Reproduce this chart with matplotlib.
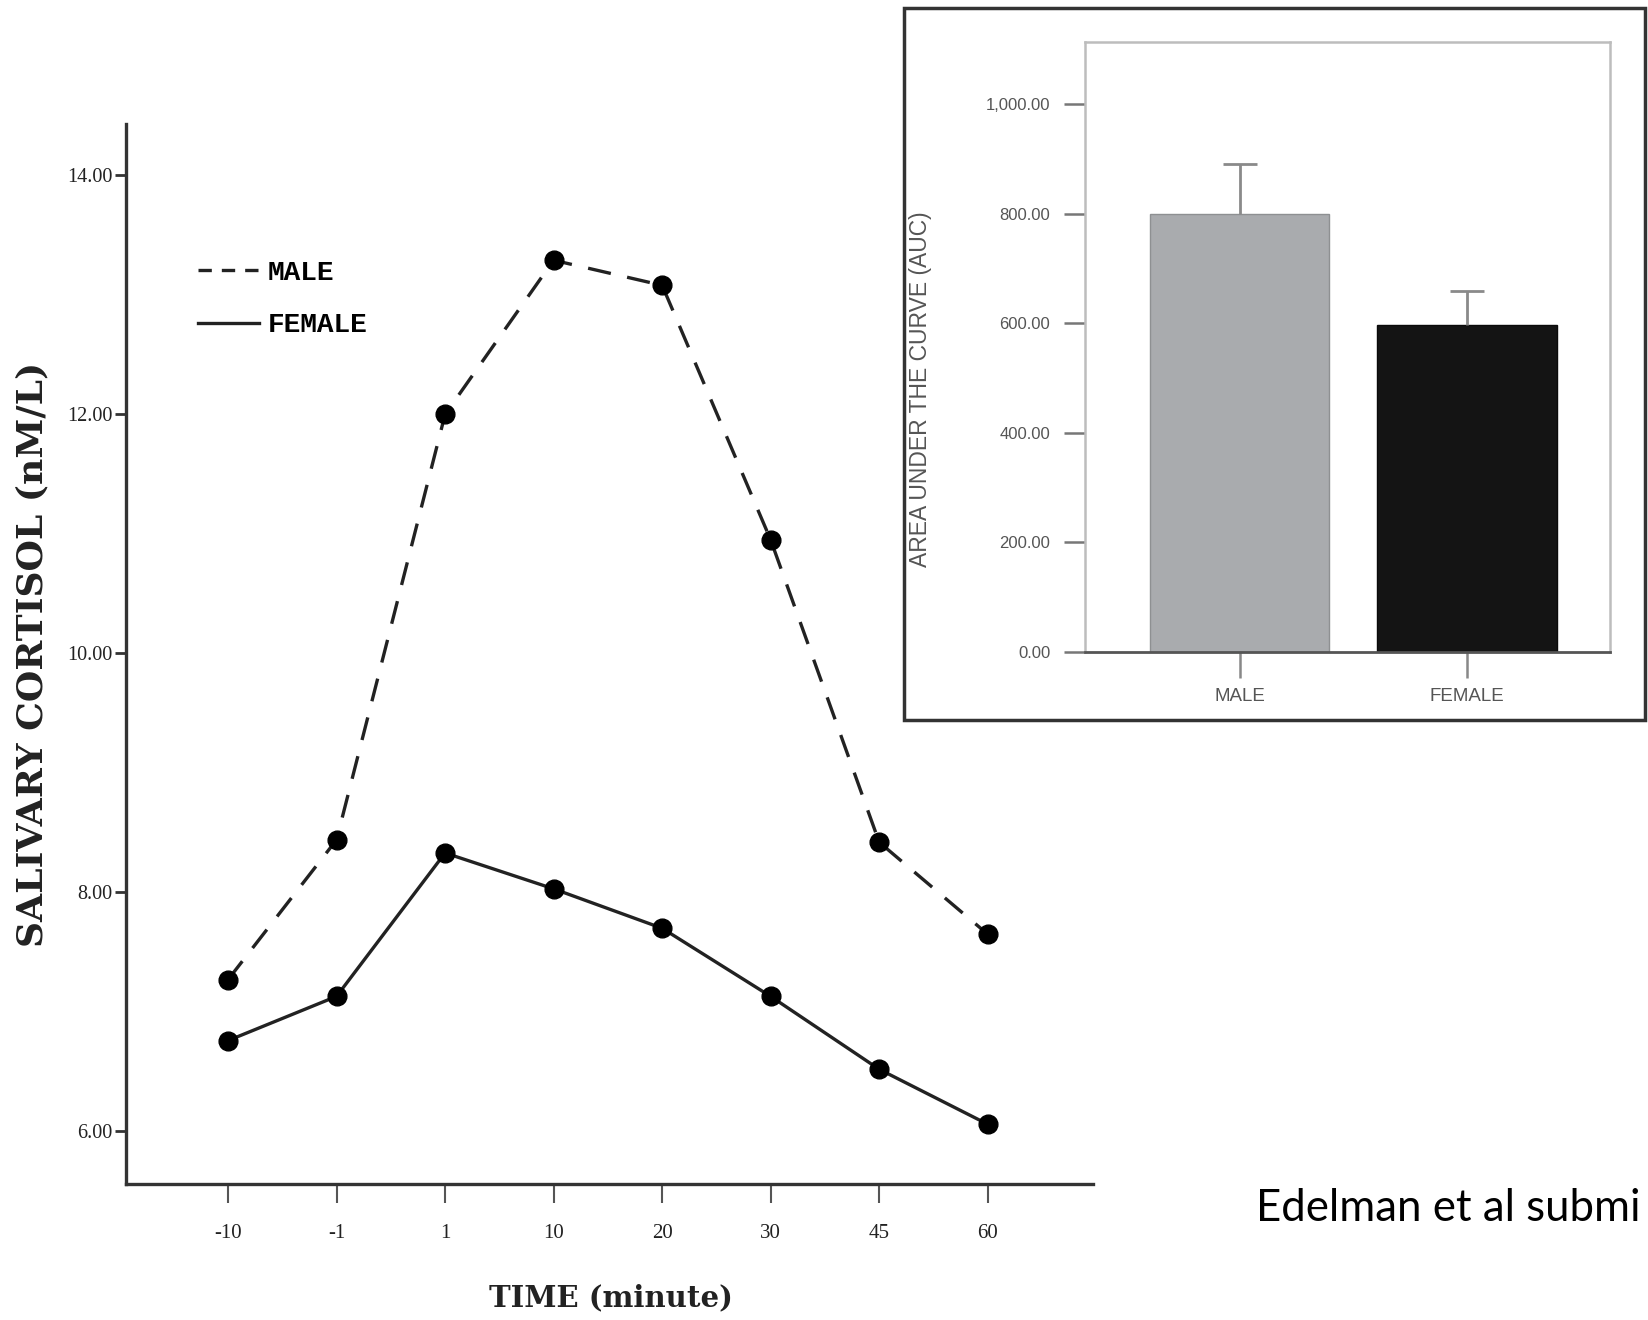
import matplotlib
matplotlib.use("Agg")
import matplotlib.pyplot as plt
from matplotlib.lines import Line2D
from matplotlib.patches import Rectangle

# ---- data ----
time_labels = ["-10", "-1", "1", "10", "20", "30", "45", "60"]
male_cortisol = [7.27, 8.44, 12.00, 13.29, 13.08, 10.95, 8.42, 7.65]
female_cortisol = [6.76, 7.13, 8.33, 8.03, 7.70, 7.13, 6.52, 6.06]
main_yticks = [6.0, 8.0, 10.0, 12.0, 14.0]

auc_groups = ["MALE", "FEMALE"]
auc_values = [800.0, 597.0]
auc_err_upper = [90.0, 61.0]
auc_yticks = [0.0, 200.0, 400.0, 600.0, 800.0, 1000.0]
auc_colors = ["#a9abae", "#141414"]

W, H = 1648, 1320
fig = plt.figure(figsize=(W / 100, H / 100), dpi=100)
fig.patch.set_facecolor("white")


def fx(px):
    return px / W


def fy(py):
    return 1 - py / H


# ---- main line chart ----
L, R, T, B = 126, 1093, 124, 1184
ax = fig.add_axes([fx(L), fy(B), fx(R - L), (B - T) / H])
xs = list(range(len(time_labels)))
ax.plot(xs, male_cortisol, color="#222222", lw=2.4, dashes=(7, 5),
        marker="o", ms=13.5, mfc="black", mec="black")
ax.plot(xs, female_cortisol, color="#222222", lw=2.4, ls="-",
        marker="o", ms=13.5, mfc="black", mec="black")
ax.set_xlim(-0.94, 7.97)
ax.set_ylim(5.56, 14.43)
ax.set_xticks(xs)
ax.set_xticklabels(time_labels)
ax.set_yticks(main_yticks)
ax.set_yticklabels([f"{v:.2f}" for v in main_yticks])
for s in ["top", "right"]:
    ax.spines[s].set_visible(False)
for s in ["left", "bottom"]:
    ax.spines[s].set_color("#333333")
    ax.spines[s].set_linewidth(2.4)
ax.tick_params(axis="x", length=14, width=1.5, color="#555555", pad=15,
               labelsize=15, labelcolor="#222222")
ax.tick_params(axis="y", length=8, width=2.0, color="#333333", pad=2,
               labelsize=14.5, labelcolor="#222222")
for lab in ax.get_xticklabels() + ax.get_yticklabels():
    lab.set_family("Liberation Serif")

handles = [Line2D([], [], color="#222222", lw=2.4, dashes=(4, 3)),
           Line2D([], [], color="#222222", lw=2.4)]
fig.legend(handles, ["MALE", "FEMALE"], loc="upper left",
           bbox_to_anchor=(fx(198), fy(260)), bbox_transform=fig.transFigure,
           frameon=False, handlelength=2.2, handletextpad=0.3,
           labelspacing=0.95, borderpad=0, borderaxespad=0,
           prop={"family": "Liberation Mono", "weight": "bold", "size": 20})

fig.text(fx(32), fy(654), "SALIVARY CORTISOL (nM/L)", rotation=90,
         ha="center", va="center", family="DejaVu Serif", weight="bold",
         fontsize=26, color="#222222")
fig.text(fx(611), fy(1298), "TIME (minute)", ha="center", va="center",
         family="DejaVu Serif", weight="bold", fontsize=21, color="#222222")

# ---- inset bar chart ----
fig.patches.append(Rectangle((fx(904), fy(720)), fx(1645 - 904), (720 - 8) / H,
                             transform=fig.transFigure, fill=False,
                             edgecolor="#333333", lw=2.5))
iL, iR, iT, iB = 1085, 1610, 42, 652
ax2 = fig.add_axes([fx(iL), fy(iB), fx(iR - iL), (iB - iT) / H])
bx = list(range(len(auc_groups)))
ax2.bar(bx, auc_values, width=0.79, color=auc_colors,
        edgecolor=["#8e9092", "#0a0a0a"], lw=1.0, zorder=2)
eb = ax2.errorbar(bx, auc_values, yerr=[[0, 0], auc_err_upper], fmt="none",
                  ecolor="#8a8a8a", elinewidth=2.0, capsize=12, capthick=2.0,
                  zorder=3)
eb[1][0].set_visible(False)  # no cap at the bar top
ax2.set_xlim(-0.68, 1.63)
ax2.set_ylim(0, 1113)
ax2.set_xticks(bx)
ax2.set_xticklabels(auc_groups)
ax2.set_yticks(auc_yticks)
ax2.set_yticklabels([f"{v:,.2f}" for v in auc_yticks])
for s in ["top", "right", "left"]:
    ax2.spines[s].set_color("#bdbdbd")
    ax2.spines[s].set_linewidth(1.8)
ax2.spines["bottom"].set_color("#555555")
ax2.spines["bottom"].set_linewidth(2.0)
ax2.tick_params(axis="y", length=15, width=1.8, color="#777777", pad=10,
                labelsize=12, labelcolor="#555555")
ax2.tick_params(axis="x", length=19, width=1.8, color="#888888", pad=7,
                labelsize=13.5, labelcolor="#555555")
for lab in ax2.get_xticklabels() + ax2.get_yticklabels():
    lab.set_family("Liberation Sans")
fig.text(fx(920), fy(389), "AREA UNDER THE CURVE (AUC)", rotation=90,
         ha="center", va="center", family="Liberation Sans", fontsize=16.5,
         color="#555555")

# ---- citation text ----
fig.text(fx(1256), fy(1221), "Edelman et al submi", ha="left", va="baseline",
         family="Lato", fontsize=31.5, color="black")

fig.savefig("out.png", dpi=100, facecolor="white")
